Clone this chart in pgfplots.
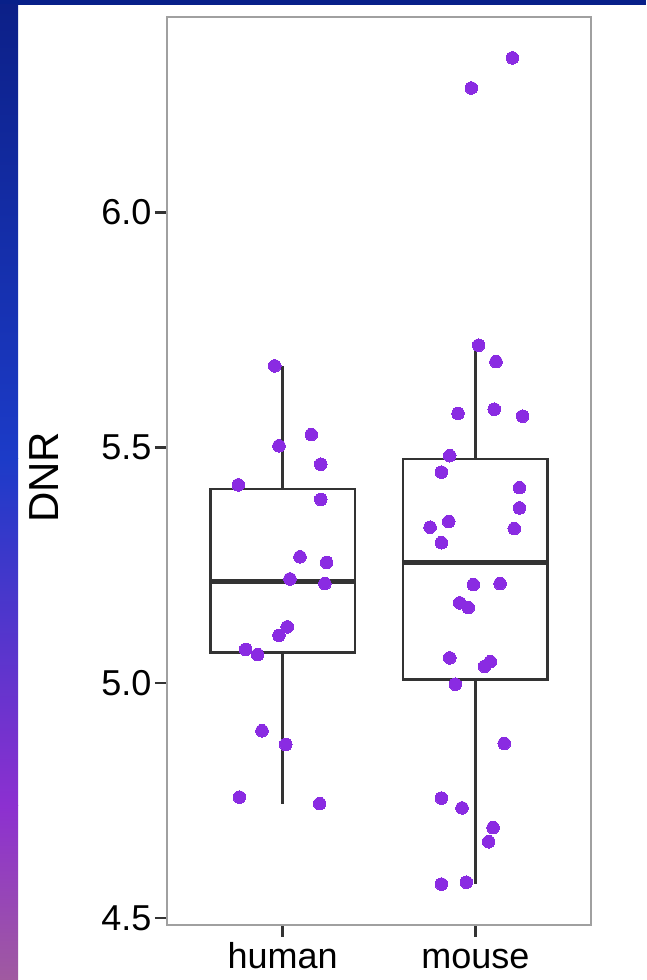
\documentclass[border=0pt]{standalone}
\usepackage{fontspec}
\setmainfont{Liberation Sans}
\usepackage{pgfplots}
\pgfplotsset{compat=1.18}
\definecolor{navy}{HTML}{082089}
\definecolor{pts}{HTML}{8A2BE2}
\definecolor{boxc}{HTML}{333333}
\definecolor{framec}{HTML}{A0A0A0}
\definecolor{sA}{HTML}{A05AA0}
\definecolor{sB}{HTML}{8C30D0}
\definecolor{sC}{HTML}{1C3BC8}
\definecolor{sD}{HTML}{0C2088}
\begin{document}
\begin{tikzpicture}
\useasboundingbox (0pt,0pt) rectangle (646pt,980pt);
\fill[navy] (0pt,0pt) rectangle (646pt,980pt);
\fill[white] (18pt,0pt) rectangle (646pt,975pt);
\shade[bottom color=sA, top color=sB] (0pt,0pt) rectangle (18pt,174pt);
\shade[bottom color=sB, top color=sC] (0pt,174pt) rectangle (18pt,521pt);
\shade[bottom color=sC, top color=sD] (0pt,521pt) rectangle (18pt,975pt);
\begin{axis}[
  at={(167pt,55pt)}, anchor=south west,
  scale only axis, width=424pt, height=908pt,
  xmin=0.4, xmax=2.6, ymin=4.485, ymax=6.416,
  xtick={1,2}, xticklabels={human,mouse},
  ytick={4.5,5,5.5,6},
  yticklabel style={/pgf/number format/.cd, fixed, fixed zerofill, precision=1},
  /pgf/number format/assume math mode=true,
  tick label style={font=\fontsize{36}{40}\selectfont, text=black},
  xticklabel style={text height=26pt, text depth=1pt, inner ysep=2pt, yshift=-3pt},
  tick align=outside, major tick length=12pt, tick pos=left,
  tick style={boxc, line width=2.5pt},
  axis line style={framec, line width=1.5pt},
  ylabel={DNR},
  every axis y label/.style={at={(axis description cs:-0.29,0.493)}, rotate=90, anchor=center, font=\fontsize{42}{44}\selectfont},
  every axis plot/.append style={line cap=butt, line join=miter},
]
% human: whiskers, box, median
\addplot[boxc, line width=2.6pt, mark=none] coordinates {(1,5.412) (1,5.674)};
\addplot[boxc, line width=2.6pt, mark=none] coordinates {(1,5.064) (1,4.743)};
\addplot[boxc, line width=2.8pt, mark=none] coordinates {(0.625,5.064) (1.375,5.064) (1.375,5.412) (0.625,5.412) (0.625,5.064) (1.375,5.064)};
\addplot[boxc, line width=5pt, mark=none] coordinates {(0.625,5.216) (1.375,5.216)};
% mouse
\addplot[boxc, line width=2.6pt, mark=none] coordinates {(2,5.476) (2,5.718)};
\addplot[boxc, line width=2.6pt, mark=none] coordinates {(2,5.007) (2,4.572)};
\addplot[boxc, line width=2.8pt, mark=none] coordinates {(1.625,5.007) (2.375,5.007) (2.375,5.476) (1.625,5.476) (1.625,5.007) (2.375,5.007)};
\addplot[boxc, line width=5pt, mark=none] coordinates {(1.625,5.256) (2.375,5.256)};
% jittered points
\addplot[pts, only marks, mark=*, mark size=6.3pt, mark options={fill=pts, draw=pts, line width=0pt}] coordinates {
(0.959,5.674) (0.981,5.504) (1.149,5.528) (1.198,5.465) (0.770,5.421) (1.198,5.390)
(1.090,5.268) (1.228,5.256) (1.038,5.221) (1.219,5.211) (1.024,5.119) (0.981,5.101)
(0.808,5.071) (0.870,5.060) (0.893,4.898) (1.016,4.869) (0.776,4.757) (1.192,4.743)
};
\addplot[pts, only marks, mark=*, mark size=6.3pt, mark options={fill=pts, draw=pts, line width=0pt}] coordinates {
(2.192,6.329) (1.979,6.265) (2.017,5.718) (2.107,5.683) (1.910,5.573) (2.098,5.582)
(2.245,5.567) (1.867,5.483) (1.824,5.448) (2.229,5.415) (2.229,5.372) (1.862,5.343)
(1.765,5.331) (2.202,5.328) (1.824,5.298) (1.990,5.209) (2.128,5.211) (1.919,5.170)
(1.963,5.160) (1.867,5.053) (2.078,5.045) (2.048,5.035) (1.896,4.997) (2.150,4.871)
(1.824,4.755) (1.931,4.734) (2.092,4.692) (2.069,4.662) (1.824,4.572) (1.953,4.576)
};
\end{axis}
\end{tikzpicture}
\end{document}
